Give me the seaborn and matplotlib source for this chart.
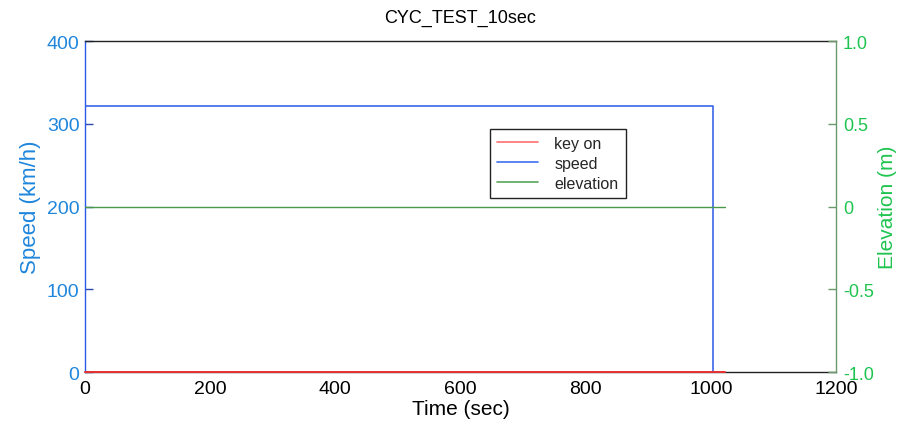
import matplotlib
matplotlib.use("Agg")
import matplotlib.pyplot as plt
import seaborn as sns
import pandas as pd

# values
time_speed = [0, 0, 1003, 1003]
speed_kmh = [0, 322, 322, 0]
time_key = [0, 1023]
key_on = [0, 0]
time_elev = [0, 1023]
elevation_m = [0, 0]

x_ticks = [0, 200, 400, 600, 800, 1000, 1200]
speed_ticks = [0, 100, 200, 300, 400]
elev_ticks = [-1.0, -0.5, 0, 0.5, 1.0]
elev_labels = ["-1.0", "-0.5", "0", "0.5", "1.0"]

sns.set_style("white")
plt.rcParams["font.family"] = ["Liberation Sans", "DejaVu Sans"]

BLUE_LINE = "#2a5ae6"
BLUE_TEXT = "#1f86dc"
GREEN_LINE = "#4a9a4a"
GREEN_TEXT = "#1ec44f"
GREEN_SPINE = "#6a9a6a"
RED_LINE = "#e83030"

fig = plt.figure(figsize=(9.02, 4.35), dpi=100)
ax = fig.add_axes([0.0942, 0.1425, 0.8326, 0.7609])
ax2 = ax.twinx()

df_speed = pd.DataFrame({"t": time_speed, "v": speed_kmh})
df_key = pd.DataFrame({"t": time_key, "v": key_on})
df_elev = pd.DataFrame({"t": time_elev, "v": elevation_m})

sns.lineplot(data=df_speed, x="t", y="v", ax=ax, color=BLUE_LINE, lw=1.1,
             estimator=None, sort=False, label="speed", legend=False)
sns.lineplot(data=df_key, x="t", y="v", ax=ax, color=RED_LINE, lw=1.4,
             estimator=None, sort=False, label="key on", legend=False,
             zorder=3, clip_on=False)
sns.lineplot(data=df_elev, x="t", y="v", ax=ax2, color=GREEN_LINE, lw=1.0,
             estimator=None, sort=False, label="elevation", legend=False)

ax.set_xlim(0, 1200)
ax.set_ylim(0, 400)
ax2.set_ylim(-1.0, 1.0)

ax.set_xticks(x_ticks)
ax.set_yticks(speed_ticks)
ax2.set_yticks(elev_ticks)
ax2.set_yticklabels(elev_labels)

ax.tick_params(axis="x", direction="in", length=6, width=1, colors="#222222",
               labelsize=14, labelcolor="black", pad=6)
ax.tick_params(axis="y", direction="in", length=6, width=1, colors="#2a4ab0",
               labelsize=14, labelcolor=BLUE_TEXT, pad=4)
ax2.tick_params(axis="y", direction="in", length=6, width=1, colors=GREEN_SPINE,
                labelsize=13, labelcolor=GREEN_TEXT, pad=5)

ax.spines["top"].set_color("#222222")
ax.spines["bottom"].set_color("#222222")
ax.spines["left"].set_color(BLUE_LINE)
ax.spines["right"].set_visible(False)
ax2.spines["right"].set_color(GREEN_SPINE)
for side in ("top", "bottom", "left"):
    ax2.spines[side].set_visible(False)
for a in (ax, ax2):
    for s in a.spines.values():
        s.set_linewidth(1.0)

ax.set_xlabel("Time (sec)", fontsize=15, color="black", labelpad=1)
ax.set_ylabel("Speed (km/h)", fontsize=16, color=BLUE_TEXT, labelpad=4)
ax2.set_ylabel("Elevation (m)", fontsize=15, color=GREEN_TEXT, labelpad=3)
ax.set_title("CYC_TEST_10sec", fontsize=13, color="black", pad=14)

handles = [
    plt.Line2D([], [], color="#ff7070", lw=1.2),
    plt.Line2D([], [], color="#3f6ff0", lw=1.2),
    plt.Line2D([], [], color="#5aa55a", lw=1.2),
]
leg = ax2.legend(handles, ["key on", "speed", "elevation"],
                 loc="upper left", bbox_to_anchor=(0.539, 0.735),
                 fontsize=11.5, frameon=True, fancybox=False, framealpha=1,
                 edgecolor="#222222", borderpad=0.45, handlelength=2.6,
                 labelspacing=0.3, handletextpad=1.0, borderaxespad=0)
leg.get_frame().set_linewidth(1.0)

fig.savefig("out.png", dpi=100)
plt.close(fig)
